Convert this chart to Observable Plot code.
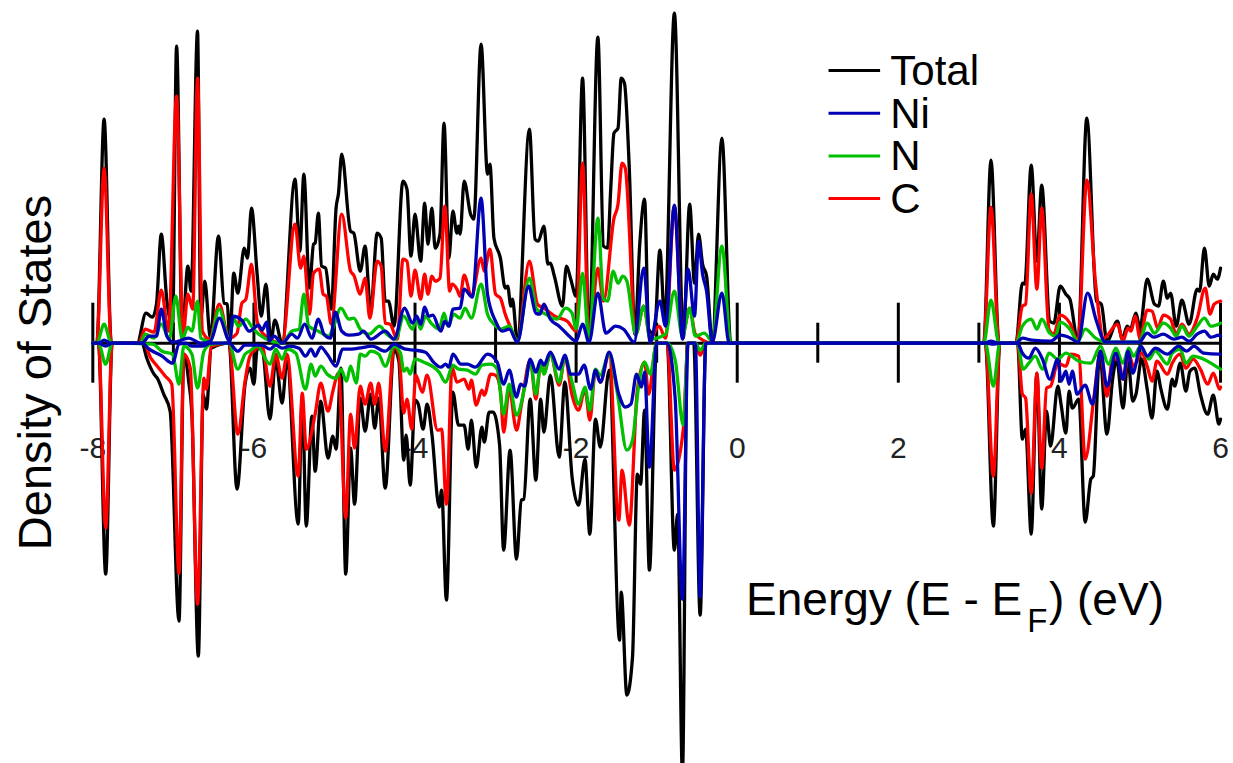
<!DOCTYPE html>
<html><head><meta charset="utf-8">
<script src="https://cdn.jsdelivr.net/npm/d3@7"></script>
<script src="https://cdn.jsdelivr.net/npm/@observablehq/plot@0.6"></script>
<style>html,body{margin:0;padding:0;background:#fff;overflow:hidden}svg{display:block}</style>
</head><body><div id="chart"></div>
<script>
// Each point: [energy in eV, density of states in arbitrary units]
const totalUp=[[-8,0],[-7.95,0],[-7.86,224],[-7.77,0],[-7.45,0],[-7.34,30],[-7.26,26],[-7.21,39],[-7.15,109],[-7.08,42],[-7.01,17],[-6.96,297],[-6.89,9],[-6.82,77],[-6.78,52],[-6.70,312],[-6.66,25],[-6.61,62],[-6.54,5],[-6.44,107],[-6.37,40],[-6.33,39],[-6.30,2],[-6.25,70],[-6.20,50],[-6.12,95],[-6.08,85],[-6.03,135],[-5.96,69],[-5.91,27],[-5.85,59],[-5.79,2],[-5.74,23],[-5.65,0],[-5.49,164],[-5.43,92],[-5.38,169],[-5.31,55],[-5.26,99],[-5.24,100],[-5.20,130],[-5.16,77],[-5.11,75],[-5.04,34],[-4.98,135],[-4.95,150],[-4.91,189],[-4.80,112],[-4.76,110],[-4.68,72],[-4.62,97],[-4.55,32],[-4.47,110],[-4.42,105],[-4.37,42],[-4.33,42],[-4.26,17],[-4.15,162],[-4.10,154],[-4.05,87],[-4.00,129],[-3.93,82],[-3.88,140],[-3.84,99],[-3.79,135],[-3.75,95],[-3.69,109],[-3.64,220],[-3.58,85],[-3.53,132],[-3.48,110],[-3.46,117],[-3.44,109],[-3.39,162],[-3.31,129],[-3.27,124],[-3.18,299],[-3.10,169],[-3.07,179],[-3.02,105],[-2.94,85],[-2.88,55],[-2.85,57],[-2.81,37],[-2.79,44],[-2.73,2],[-2.58,214],[-2.51,104],[-2.47,102],[-2.40,117],[-2.35,79],[-2.32,80],[-2.27,67],[-2.17,37],[-2.12,77],[-2.07,65],[-2.00,47],[-1.92,265],[-1.84,2],[-1.73,306],[-1.66,97],[-1.61,95],[-1.57,155],[-1.53,210],[-1.48,215],[-1.44,265],[-1.40,260],[-1.34,175],[-1.27,9],[-1.21,99],[-1.15,144],[-1.10,14],[-1.03,9],[-0.96,93],[-0.90,22],[-0.78,330],[-0.67,5],[-0.59,139],[-0.53,60],[-0.48,109],[-0.43,79],[-0.38,67],[-0.31,2],[-0.19,205],[-0.08,0],[3.06,0],[3.15,183],[3.25,0],[3.46,0],[3.54,60],[3.57,59],[3.65,178],[3.72,82],[3.78,158],[3.88,22],[3.93,20],[4.01,57],[4.08,49],[4.13,44],[4.23,2],[4.34,225],[4.46,42],[4.52,39],[4.59,2],[4.72,22],[4.78,4],[4.84,17],[4.88,14],[4.95,30],[5.00,15],[5.09,64],[5.18,39],[5.23,37],[5.29,62],[5.34,45],[5.38,50],[5.45,17],[5.52,43],[5.61,19],[5.71,54],[5.74,52],[5.80,95],[5.86,57],[5.91,69],[5.96,64],[6.00,75]];
const totalDown=[[-8,0],[-7.93,0],[-7.84,-231],[-7.76,0],[-7.39,0],[-7.33,-15],[-7.24,-31],[-7.20,-35],[-7.12,-51],[-7.04,-68],[-6.93,-278],[-6.87,-11],[-6.81,-38],[-6.77,-71],[-6.69,-313],[-6.63,-51],[-6.59,-66],[-6.53,-5],[-6.31,0],[-6.21,-146],[-6.11,-41],[-6.05,-25],[-6.00,-41],[-5.96,-6],[-5.90,-5],[-5.80,-76],[-5.73,-16],[-5.65,-60],[-5.59,-18],[-5.45,-181],[-5.40,-55],[-5.35,-183],[-5.28,-73],[-5.24,-128],[-5.17,-58],[-5.08,-115],[-5.02,-93],[-4.98,-106],[-4.92,-25],[-4.86,-231],[-4.80,-105],[-4.75,-161],[-4.68,-55],[-4.62,-88],[-4.55,-51],[-4.50,-85],[-4.45,-55],[-4.37,-145],[-4.26,-6],[-4.20,-18],[-4.14,-117],[-4.11,-92],[-4.06,-142],[-4.00,-57],[-3.96,-61],[-3.90,-86],[-3.85,-61],[-3.79,-91],[-3.70,-164],[-3.67,-147],[-3.61,-257],[-3.53,-49],[-3.46,-82],[-3.39,-82],[-3.34,-106],[-3.30,-77],[-3.24,-124],[-3.17,-84],[-3.14,-99],[-3.08,-69],[-3.03,-69],[-2.95,-102],[-2.90,-207],[-2.82,-107],[-2.74,-216],[-2.68,-157],[-2.65,-156],[-2.57,-56],[-2.50,-137],[-2.44,-56],[-2.40,-89],[-2.32,-32],[-2.21,-114],[-2.14,-39],[-2.05,-134],[-1.97,-162],[-1.89,-116],[-1.83,-191],[-1.76,-76],[-1.70,-104],[-1.59,-27],[-1.46,-297],[-1.44,-249],[-1.37,-352],[-1.30,-314],[-1.24,-131],[-1.20,-141],[-1.15,-67],[-1.09,-227],[-1.00,0],[-0.87,0],[-0.78,-207],[-0.74,-171],[-0.68,-430],[-0.62,0],[-0.54,0],[-0.46,-272],[-0.39,0],[3.08,0],[3.18,-183],[3.26,0],[3.48,0],[3.54,-96],[3.58,-86],[3.65,-191],[3.72,-30],[3.78,-166],[3.84,-68],[3.89,-103],[3.98,-43],[4.02,-61],[4.08,-90],[4.12,-48],[4.16,-65],[4.24,-56],[4.32,-179],[4.39,-136],[4.42,-133],[4.50,-10],[4.59,-91],[4.66,-36],[4.71,-16],[4.79,-65],[4.85,-16],[4.91,-58],[4.95,-51],[5.02,-16],[5.09,-46],[5.15,-75],[5.21,-28],[5.26,-46],[5.34,-66],[5.40,-36],[5.43,-43],[5.50,-20],[5.57,-48],[5.62,-28],[5.68,-25],[5.75,-51],[5.84,-71],[5.91,-52],[5.98,-81],[6.00,-76]];
const carbonUp=[[-8,0],[-7.95,0],[-7.86,175],[-7.77,0],[-7.43,0],[-7.35,14],[-7.24,11],[-7.15,53],[-7.06,12],[-6.96,247],[-6.88,7],[-6.82,49],[-6.76,34],[-6.70,265],[-6.64,12],[-6.55,4],[-6.43,39],[-6.31,5],[-6.21,10],[-6.15,40],[-6.10,44],[-6.03,79],[-5.96,22],[-5.88,9],[-5.65,0],[-5.49,119],[-5.42,75],[-5.38,87],[-5.31,29],[-5.26,70],[-5.19,74],[-5.14,49],[-5.10,47],[-5.04,19],[-4.91,129],[-4.80,72],[-4.76,68],[-4.68,49],[-4.62,65],[-4.56,25],[-4.47,82],[-4.42,77],[-4.37,20],[-4.31,19],[-4.22,4],[-4.15,84],[-4.10,82],[-4.05,47],[-4.00,73],[-3.93,44],[-3.88,69],[-3.84,49],[-3.79,67],[-3.75,62],[-3.69,65],[-3.63,137],[-3.57,52],[-3.54,59],[-3.48,54],[-3.44,47],[-3.39,68],[-3.30,47],[-3.18,85],[-3.14,72],[-3.07,94],[-3.00,49],[-2.94,45],[-2.88,29],[-2.81,15],[-2.73,2],[-2.58,82],[-2.48,39],[-2.40,35],[-2.24,26],[-2.11,22],[-2.00,12],[-1.92,180],[-1.84,2],[-1.73,75],[-1.66,42],[-1.53,125],[-1.48,139],[-1.43,180],[-1.39,175],[-1.26,9],[-1.16,37],[-1.08,5],[-0.97,17],[-0.89,5],[-0.78,137],[-0.68,9],[-0.59,35],[-0.52,9],[-0.31,0],[3.06,0],[3.15,136],[3.25,0],[3.46,0],[3.54,37],[3.58,39],[3.65,149],[3.72,54],[3.78,135],[3.87,14],[3.93,9],[4.01,28],[4.13,20],[4.23,2],[4.34,163],[4.45,59],[4.55,5],[4.72,19],[4.79,2],[4.85,15],[4.89,12],[4.94,27],[5.00,5],[5.09,33],[5.15,32],[5.22,15],[5.29,28],[5.38,24],[5.45,9],[5.52,19],[5.61,9],[5.71,25],[5.81,55],[5.87,29],[5.92,39],[6.00,42]];
const carbonDown=[[-8,0],[-7.93,0],[-7.84,-185],[-7.76,0],[-7.37,0],[-7.28,-15],[-7.20,-23],[-7.10,-33],[-7.02,-41],[-6.93,-230],[-6.87,-11],[-6.79,-25],[-6.70,-261],[-6.62,-35],[-6.59,-46],[-6.53,-3],[-6.31,0],[-6.20,-91],[-6.11,-38],[-6.05,-13],[-5.96,-5],[-5.90,-3],[-5.80,-43],[-5.73,-11],[-5.65,-35],[-5.59,-11],[-5.45,-133],[-5.40,-50],[-5.35,-106],[-5.24,-71],[-5.17,-40],[-5.08,-68],[-5.02,-48],[-4.95,-30],[-4.86,-175],[-4.80,-71],[-4.75,-105],[-4.68,-43],[-4.62,-61],[-4.55,-40],[-4.50,-61],[-4.45,-40],[-4.37,-108],[-4.26,-3],[-4.20,-11],[-4.14,-70],[-4.10,-56],[-4.04,-86],[-3.99,-32],[-3.91,-49],[-3.85,-32],[-3.72,-87],[-3.67,-86],[-3.61,-161],[-3.54,-24],[-3.48,-39],[-3.39,-36],[-3.33,-46],[-3.30,-37],[-3.24,-62],[-3.17,-47],[-3.14,-52],[-3.06,-31],[-3.00,-32],[-2.94,-47],[-2.90,-89],[-2.83,-46],[-2.74,-87],[-2.68,-62],[-2.57,-17],[-2.50,-56],[-2.44,-21],[-2.40,-29],[-2.32,-11],[-2.21,-42],[-2.14,-14],[-2.05,-52],[-1.97,-67],[-1.89,-46],[-1.83,-77],[-1.76,-27],[-1.70,-39],[-1.59,-11],[-1.47,-177],[-1.43,-127],[-1.34,-182],[-1.24,-47],[-1.15,-19],[-1.10,-51],[-1.00,0],[-0.87,0],[-0.78,-127],[-0.67,-86],[-0.61,0],[-0.52,0],[-0.46,-12],[-0.39,0],[3.08,0],[3.18,-133],[3.26,0],[3.48,0],[3.54,-51],[3.58,-55],[3.65,-150],[3.72,-30],[3.78,-125],[3.84,-45],[3.89,-43],[3.98,-20],[4.08,-23],[4.14,-11],[4.24,-13],[4.32,-116],[4.43,-53],[4.51,-8],[4.59,-53],[4.66,-16],[4.73,-16],[4.79,-36],[4.86,-11],[4.92,-23],[5.02,-10],[5.09,-23],[5.15,-38],[5.21,-18],[5.34,-31],[5.40,-20],[5.50,-11],[5.57,-25],[5.66,-16],[5.75,-26],[5.84,-41],[5.91,-30],[5.99,-46],[6.00,-44]];
const nitrogenUp=[[-8,0],[-7.95,0],[-7.86,19],[-7.77,0],[-7.41,0],[-7.35,9],[-7.24,5],[-7.15,19],[-7.05,4],[-6.97,47],[-6.89,4],[-6.82,16],[-6.77,12],[-6.70,42],[-6.66,5],[-6.55,2],[-6.43,34],[-6.31,4],[-6.25,24],[-6.19,17],[-6.10,24],[-6.03,17],[-5.94,9],[-5.65,0],[-5.53,12],[-5.44,14],[-5.38,49],[-5.32,17],[-5.20,12],[-5.07,7],[-5.01,17],[-4.92,35],[-4.82,24],[-4.76,25],[-4.68,14],[-4.57,9],[-4.44,17],[-4.35,9],[-4.24,4],[-4.14,27],[-4.03,14],[-3.98,25],[-3.93,14],[-3.87,27],[-3.80,20],[-3.70,14],[-3.64,30],[-3.59,17],[-3.52,29],[-3.44,25],[-3.38,35],[-3.30,25],[-3.18,59],[-3.10,29],[-3.02,19],[-2.94,14],[-2.83,17],[-2.73,2],[-2.58,65],[-2.49,34],[-2.40,30],[-2.24,24],[-2.13,35],[-2.05,30],[-2.00,14],[-1.92,70],[-1.84,2],[-1.73,125],[-1.66,44],[-1.61,42],[-1.54,72],[-1.48,60],[-1.42,67],[-1.37,62],[-1.26,9],[-1.16,37],[-1.08,4],[-0.89,9],[-0.78,52],[-0.68,7],[-0.59,35],[-0.52,7],[-0.41,10],[-0.31,2],[-0.19,97],[-0.08,0],[3.06,0],[3.15,43],[3.25,0],[3.46,0],[3.54,17],[3.65,24],[3.72,14],[3.78,24],[3.88,10],[3.95,7],[4.01,21],[4.13,14],[4.23,2],[4.32,14],[4.45,5],[4.57,1],[4.99,1],[5.09,20],[5.18,10],[5.29,20],[5.38,15],[5.45,7],[5.52,17],[5.61,7],[5.71,17],[5.80,25],[5.88,17],[6.00,20]];
const nitrogenDown=[[-8,0],[-7.93,0],[-7.84,-21],[-7.76,0],[-7.26,-1],[-7.14,-8],[-7.01,-11],[-6.93,-41],[-6.87,-3],[-6.77,-11],[-6.70,-45],[-6.62,-8],[-6.53,-1],[-6.31,0],[-6.20,-26],[-6.11,-11],[-6.05,-8],[-5.96,-3],[-5.80,-21],[-5.73,-6],[-5.65,-16],[-5.59,-6],[-5.48,-10],[-5.36,-46],[-5.29,-21],[-5.24,-33],[-5.17,-23],[-5.09,-31],[-4.98,-35],[-4.92,-26],[-4.85,-38],[-4.80,-23],[-4.73,-40],[-4.68,-11],[-4.62,-13],[-4.55,-8],[-4.45,-11],[-4.37,-23],[-4.26,-3],[-4.18,-10],[-4.14,-28],[-4.10,-25],[-4.06,-31],[-4.00,-16],[-3.89,-19],[-3.70,-29],[-3.62,-39],[-3.53,-22],[-3.46,-26],[-3.35,-27],[-3.25,-31],[-3.17,-22],[-3.06,-21],[-2.98,-26],[-2.90,-71],[-2.83,-41],[-2.74,-72],[-2.63,-41],[-2.57,-17],[-2.50,-51],[-2.44,-21],[-2.40,-31],[-2.32,-11],[-2.21,-39],[-2.14,-14],[-2.05,-39],[-1.97,-61],[-1.89,-44],[-1.83,-67],[-1.76,-26],[-1.70,-32],[-1.59,-11],[-1.49,-49],[-1.37,-107],[-1.30,-97],[-1.23,-46],[-1.15,-19],[-1.08,-31],[-1.00,0],[-0.87,0],[-0.77,-17],[-0.67,-82],[-0.61,0],[-0.52,0],[-0.46,-7],[-0.39,0],[3.08,0],[3.18,-43],[3.26,0],[3.48,0],[3.55,-26],[3.62,-20],[3.70,-13],[3.79,-26],[3.87,-10],[3.98,-16],[4.08,-10],[4.24,-18],[4.39,-20],[4.51,-3],[4.61,-21],[4.70,-5],[4.79,-20],[4.86,-5],[4.92,-13],[5.01,-3],[5.11,-16],[5.19,-8],[5.34,-21],[5.40,-10],[5.50,-6],[5.57,-20],[5.66,-13],[5.79,-16],[5.98,-25],[6.00,-26]];
const nickelUp=[[-8,0],[-7.93,0],[-7.86,3],[-7.78,0],[-7.39,0],[-7.30,7],[-7.21,7],[-7.15,34],[-7.08,7],[-7.00,1],[-6.81,5],[-6.66,0],[-6.54,2],[-6.43,25],[-6.30,2],[-6.26,27],[-6.15,23],[-6.06,12],[-5.94,18],[-5.90,13],[-5.84,21],[-5.81,2],[-5.75,7],[-5.65,0],[-5.53,9],[-5.46,5],[-5.37,19],[-5.28,5],[-5.20,24],[-5.13,9],[-5.05,5],[-4.99,31],[-4.91,12],[-4.82,8],[-4.70,9],[-4.64,12],[-4.55,4],[-4.37,12],[-4.26,4],[-4.13,35],[-4.03,20],[-3.98,27],[-3.93,19],[-3.88,36],[-3.83,27],[-3.78,28],[-3.68,12],[-3.63,22],[-3.58,17],[-3.53,34],[-3.44,35],[-3.39,54],[-3.29,46],[-3.18,145],[-3.10,49],[-3.00,22],[-2.92,12],[-2.83,14],[-2.73,1],[-2.59,57],[-2.50,30],[-2.45,29],[-2.40,39],[-2.32,24],[-2.21,17],[-2.11,9],[-2.00,2],[-1.92,19],[-1.84,1],[-1.73,50],[-1.63,10],[-1.51,17],[-1.41,14],[-1.28,1],[-1.16,75],[-1.08,1],[-0.96,42],[-0.89,17],[-0.78,138],[-0.68,4],[-0.61,74],[-0.53,27],[-0.48,102],[-0.43,69],[-0.38,52],[-0.31,1],[-0.19,50],[-0.10,0],[3.06,0],[3.15,2],[3.25,0],[3.46,0],[3.54,5],[3.66,3],[3.89,2],[4.01,8],[4.14,5],[4.23,1],[4.35,50],[4.46,22],[4.57,1],[4.99,1],[5.09,10],[5.17,6],[5.29,9],[5.42,4],[5.52,6],[5.61,2],[5.71,9],[5.80,12],[5.88,6],[5.98,8],[6.00,7]];
const nickelDown=[[-8,0],[-7.93,0],[-7.84,-3],[-7.76,0],[-7.39,0],[-7.30,-6],[-7.14,-13],[-7.01,-20],[-6.93,-1],[-6.84,0],[-6.77,-3],[-6.64,-3],[-6.54,0],[-6.31,0],[-6.20,-8],[-6.11,-2],[-5.90,-2],[-5.80,-6],[-5.73,-2],[-5.65,-5],[-5.56,-3],[-5.44,-5],[-5.36,-13],[-5.29,-6],[-5.24,-13],[-5.17,-4],[-5.09,-11],[-4.98,-23],[-4.90,-6],[-4.82,-6],[-4.70,-5],[-4.53,-3],[-4.37,-8],[-4.26,-1],[-4.12,-6],[-4.00,-7],[-3.87,-9],[-3.77,-19],[-3.68,-24],[-3.62,-21],[-3.58,-24],[-3.53,-11],[-3.43,-21],[-3.35,-21],[-3.25,-24],[-3.10,-11],[-2.98,-19],[-2.90,-41],[-2.83,-27],[-2.74,-54],[-2.69,-41],[-2.64,-43],[-2.57,-16],[-2.50,-29],[-2.44,-17],[-2.40,-22],[-2.32,-9],[-2.21,-26],[-2.14,-12],[-2.07,-31],[-1.97,-31],[-1.90,-22],[-1.82,-46],[-1.76,-27],[-1.70,-39],[-1.59,-9],[-1.47,-51],[-1.39,-64],[-1.32,-61],[-1.25,-31],[-1.19,-44],[-1.15,-29],[-1.09,-124],[-1.00,0],[-0.87,0],[-0.77,-56],[-0.68,-256],[-0.61,0],[-0.52,0],[-0.46,-254],[-0.39,0],[3.08,0],[3.18,-1],[3.26,0],[3.48,0],[3.54,-10],[3.62,-15],[3.70,-5],[3.79,-16],[3.88,-36],[3.98,-16],[4.02,-38],[4.08,-28],[4.12,-41],[4.16,-28],[4.22,-51],[4.32,-42],[4.41,-61],[4.51,-8],[4.59,-43],[4.70,-10],[4.79,-36],[4.85,-8],[4.91,-30],[5.01,-3],[5.09,-13],[5.19,-5],[5.34,-11],[5.48,-3],[5.58,-8],[5.67,-3],[5.79,-10],[5.98,-11],[6.00,-11]];

const energyTicks=[-8,-7,-6,-5,-4,-3,-2,-1,0,1,2,3,4,5,6];
const labelTicks=[-8,-6,-4,-2,0,2,4,6];
const legendNames=["Total","Ni","N","C"];
const legendColors=["#000000","#0000b4","#00c000","#ff0000"];
const legendLevels=[272.7,230,187.3,144.6];

const ink={Total:"#000000",Ni:"#0000b4",N:"#00c000",C:"#ff0000"};
const curve=(data,color)=>Plot.line(data,{x:d=>d[0],y:d=>d[1],stroke:color,strokeWidth:3.3,curve:"monotone-x",strokeLinejoin:"round"});
const font="Liberation Sans, Arial, Helvetica, sans-serif";

const plot=Plot.plot({
  width:1233,height:763,margin:0,
  x:{domain:[-9.146,6.161],range:[0,1233],axis:null},
  y:{domain:[342.7,-420.3],range:[0,763],axis:null},
  style:{background:"#fff",fontFamily:font},
  marks:[
    Plot.text(labelTicks,{x:d=>d,y:-104.7,text:d=>String(d),fontSize:30,fill:"#222"}),
    Plot.text(["Density of States"],{x:-8.71,y:-29.3,text:d=>d,fontSize:47,rotate:-90,fill:"#000"}),
    Plot.text(["Energy (E - E"],{x:0.11,y:-256.6,text:d=>d,fontSize:46,textAnchor:"start",fill:"#000"}),
    Plot.text(["F"],{x:3.6,y:-278,text:d=>d,fontSize:33,textAnchor:"start",fill:"#000"}),
    Plot.text([") (eV)"],{x:3.87,y:-256.6,text:d=>d,fontSize:46,textAnchor:"start",fill:"#000"}),
    curve(totalUp,ink.Total),curve(totalDown,ink.Total),
    Plot.ruleY([0],{x1:-8,x2:6,stroke:"#000",strokeWidth:3}),
    Plot.ruleX(energyTicks,{x:d=>d,y1:d=>d%2===0?-40:-20,y2:d=>d%2===0?40:20,stroke:"#000",strokeWidth:3}),
    curve(carbonUp,ink.C),curve(carbonDown,ink.C),
    curve(nitrogenUp,ink.N),curve(nitrogenDown,ink.N),
    curve(nickelUp,ink.Ni),curve(nickelDown,ink.Ni),
    Plot.ruleY(legendNames,{y:(d,i)=>legendLevels[i],x1:1.14,x2:1.78,stroke:(d,i)=>legendColors[i],strokeWidth:3}),
    Plot.text(legendNames,{x:1.9,y:(d,i)=>legendLevels[i],dy:1,text:d=>d,fontSize:42,textAnchor:"start",fill:"#000"})
  ]
});
document.getElementById("chart").append(plot);
</script></body></html>
